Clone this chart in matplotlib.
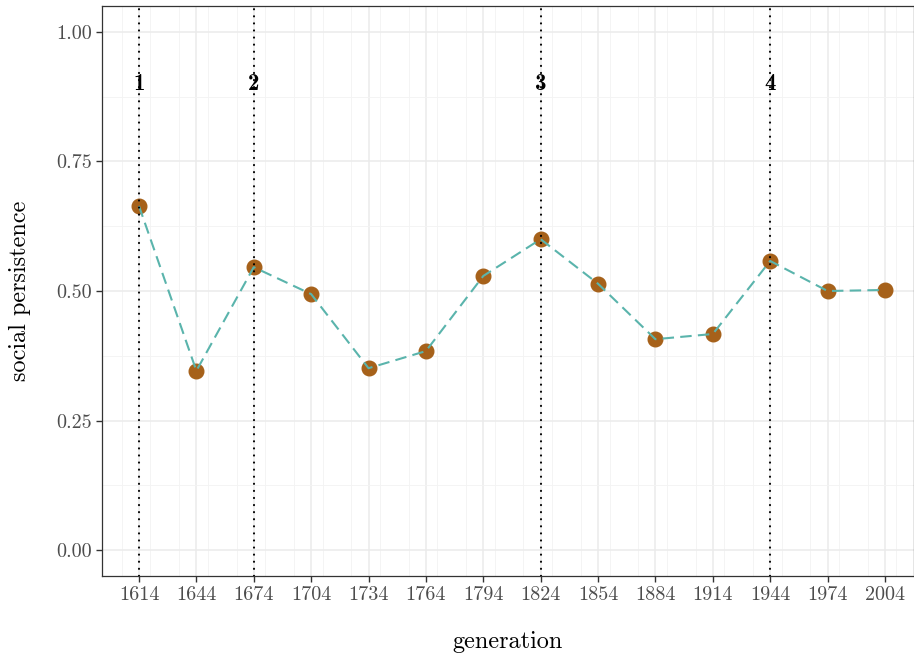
import matplotlib
matplotlib.use('Agg')
import matplotlib.pyplot as plt
from matplotlib.ticker import MultipleLocator

# data
generation = [1614, 1644, 1674, 1704, 1734, 1764, 1794, 1824, 1854, 1884, 1914, 1944, 1974, 2004]
persistence = [0.664, 0.346, 0.546, 0.494, 0.351, 0.384, 0.529, 0.600, 0.514, 0.407, 0.417, 0.558, 0.500, 0.502]
event_years = [1614, 1674, 1824, 1944]
event_labels = ['1', '2', '3', '4']
yticks = [0.0, 0.25, 0.5, 0.75, 1.0]

plt.rcParams['font.family'] = 'cmr10'
plt.rcParams['axes.formatter.use_mathtext'] = True

fig = plt.figure(figsize=(9.14, 6.56), dpi=100)
ax = fig.add_axes([102 / 914, 1 - 576 / 656, (914 - 102) / 914, 570 / 656])

# grid (theme_bw look)
ax.set_axisbelow(True)
ax.xaxis.set_minor_locator(MultipleLocator(15))
ax.yaxis.set_minor_locator(MultipleLocator(0.125))
ax.grid(which='major', color='#ebebeb', linewidth=1.1)
ax.grid(which='minor', color='#f3f3f3', linewidth=0.6)

# points, line on top, then event markers
ax.plot(generation, persistence, 'o', color='#a6611a', markersize=10.5, zorder=3)
ax.plot(generation, persistence, '--', color='#5ab4ac', linewidth=1.5, dashes=(5.5, 3), zorder=4)
for yr, lab in zip(event_years, event_labels):
    ax.axvline(yr, color='black', linestyle=(0, (0.1, 3.3)), dash_capstyle='round',
               linewidth=1.5, zorder=5)
    ax.text(yr, 0.9, lab, ha='center', va='center', fontsize=16.5, family='cmb10', zorder=6)

ax.set_xlim(1594.66, 2019.2)
ax.set_ylim(-0.05, 1.05)
ax.set_xticks(generation)
ax.set_xticklabels([str(g) for g in generation])
ax.set_yticks(yticks)
ax.set_yticklabels(['%.2f' % v for v in yticks])

ax.tick_params(which='major', length=4, width=1, color='#333333', labelcolor='#4d4d4d', labelsize=14.5)
ax.tick_params(which='minor', length=0)
for s in ax.spines.values():
    s.set_color('#333333')
    s.set_linewidth(0.9)

ax.set_xlabel('generation', fontsize=17.5, labelpad=19)
ax.set_ylabel('social persistence', fontsize=17.5, labelpad=18)

fig.savefig('out.png', dpi=100)
